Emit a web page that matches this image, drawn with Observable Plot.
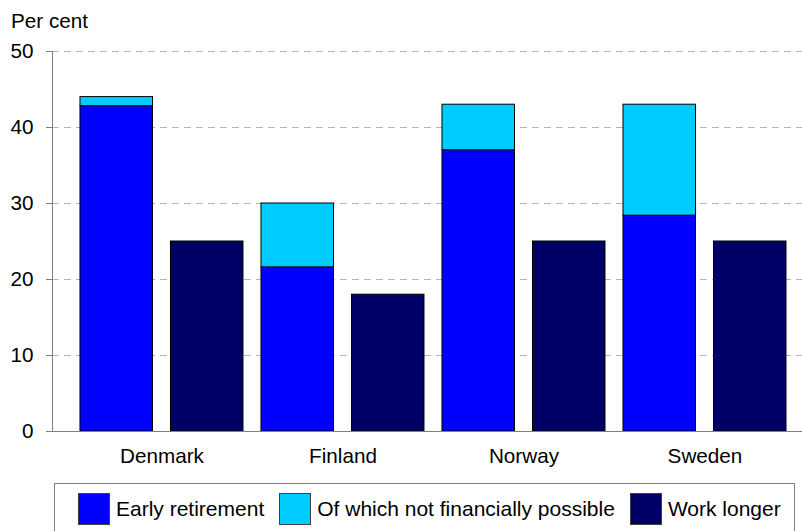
<!DOCTYPE html>
<html>
<head>
<meta charset="utf-8">
<script src="https://cdn.jsdelivr.net/npm/d3@7"></script>
<script src="https://cdn.jsdelivr.net/npm/@observablehq/plot@0.6"></script>
<style>
  html, body { margin: 0; padding: 0; background: #fff; overflow: hidden; }
  #wrap { position: relative; width: 802px; height: 531px; overflow: hidden;
          font-family: "Liberation Sans", Arial, sans-serif; color: #000; }
  #title { position: absolute; left: 11px; top: 11px; font-size: 20.7px; line-height: 1; }
  #chart { position: absolute; left: 0; top: 0; }
  #legend { position: absolute; left: 54px; top: 483px; width: 741px; height: 60px;
            border: 1px solid #808080; box-sizing: border-box; background: #fff;
            display: flex; flex-wrap: nowrap; align-items: flex-start; padding: 9px 0 0 23px;
            font-size: 21px; white-space: nowrap; }
  .item { display: flex; align-items: center; margin-right: 15px; flex: 0 0 auto; white-space: nowrap; }
  .sw { width: 32px; height: 32px; box-sizing: border-box; border: 1px solid #404040; margin-right: 6px; flex: 0 0 auto; }
</style>
</head>
<body>
<div id="wrap">
  <div id="chart"></div>
  <div id="title">Per cent</div>
  <div id="legend"></div>
</div>
<script>
const countries = ["Denmark", "Finland", "Norway", "Sweden"];
const earlyRetirement = [42.8, 21.6, 37.0, 28.4];
const notFinanciallyPossible = [1.2, 8.4, 6.0, 14.6];
const workLonger = [25, 18, 25, 25];
const seriesNames = ["Early retirement", "Of which not financially possible", "Work longer"];
const seriesColors = ["#0000ff", "#00ccff", "#000066"];
const yTicks = [0, 10, 20, 30, 40, 50];

const stackRows = [];
countries.forEach((c, i) => {
  stackRows.push({country: c, series: seriesNames[0], value: earlyRetirement[i]});
  stackRows.push({country: c, series: seriesNames[1], value: notFinanciallyPossible[i]});
});
const workRows = countries.map((c, i) => ({country: c, series: seriesNames[2], value: workLonger[i]}));

const chart = Plot.plot({
  width: 802,
  height: 471,
  marginTop: 51,
  marginBottom: 40,
  marginLeft: 52,
  marginRight: 0,
  style: {fontFamily: "'Liberation Sans', Arial, sans-serif", fontSize: "20.7px", background: "transparent", color: "#000"},
  x: {domain: countries, paddingInner: 18 / 181, paddingOuter: 0.1215, align: 0.636, round: false, label: null},
  y: {domain: [0, 50], label: null},
  color: {domain: seriesNames, range: seriesColors},
  marks: [
    Plot.ruleY(yTicks.filter(d => d > 0), {stroke: "#b4b4b4", strokeDasharray: "7,5"}),
    Plot.barY(stackRows, {x: "country", y: "value", fill: "series", stroke: "#000", strokeWidth: 1, insetLeft: 0, insetRight: 90.5}),
    Plot.barY(workRows, {x: "country", y: "value", fill: "series", stroke: "#000", strokeWidth: 1, insetLeft: 90.5, insetRight: 0}),
    Plot.ruleY([0], {stroke: "#808080"}),
    Plot.frame({anchor: "left", stroke: "#808080"}),
    Plot.axisY({ticks: yTicks, tickSize: 6, tickPadding: 13, stroke: "#808080", fill: "#000", label: null}),
    Plot.axisX({tickSize: 0, tickPadding: 17, fill: "#000", label: null})
  ]
});
document.getElementById("chart").appendChild(chart);

const legend = document.getElementById("legend");
seriesNames.forEach((name, i) => {
  const item = document.createElement("div");
  item.className = "item";
  const sw = document.createElement("div");
  sw.className = "sw";
  sw.style.background = seriesColors[i];
  const label = document.createElement("span");
  label.textContent = name;
  item.appendChild(sw);
  item.appendChild(label);
  legend.appendChild(item);
});
</script>
</body>
</html>
